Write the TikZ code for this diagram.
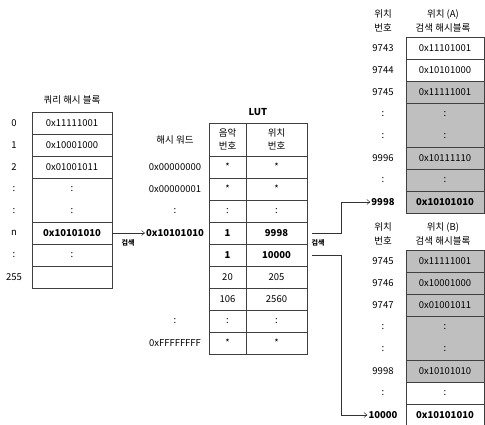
\documentclass[tikz,border=0pt]{standalone}
\usepackage{fontspec}
\setmainfont{Noto Sans CJK KR}
\usetikzlibrary{arrows.meta}

\begin{document}
\begin{tikzpicture}[x=1pt,y=-1pt,
  every node/.style={font=\fontsize{9.5}{13.5}\selectfont,inner sep=1pt},
  cell/.style={draw=black!75,line width=0.5pt,minimum width=80,minimum height=22,inner sep=0pt},
  hcell/.style={cell,minimum width=78},
  shaded/.style={fill=black!25},
  music/.style={cell,minimum width=37},
  place/.style={cell,minimum width=61},
  arr/.style={draw=black!80,line width=0.5pt,-{Straight Barb[length=3pt,width=5pt]}},
  srch/.style={font=\fontsize{7}{8}\selectfont\bfseries}]
  \useasboundingbox (0,0) rectangle (485,424);

  % 쿼리 해시 블록
  \node (qtitle) at (72,100) {쿼리 해시 블록};
  \node[cell] (q0) at (72,123) {0x11111001};
  \node[cell] (q1) at (72,145) {0x10001000};
  \node[cell] (q2) at (72,167) {0x01001011};
  \node[cell,minimum height=44] (qdots) at (72,200) {};
  \node (qd1) at (72,189) {:};
  \node (qd2) at (72,211) {:};
  \node[cell,font=\fontsize{9.5}{13.5}\selectfont\bfseries] (qn) at (72,233) {0x10101010};
  \node[cell] (q9) at (72,255) {:};
  \node[cell] (q255) at (72,277) {};
  \foreach \t/\y [count=\k] in {0/123,1/145,2/167,:/189,:/211,n/233,:/255,255/277}
    \node (qi\k) at (14,\y) {\t};

  % LUT
  \node[font=\fontsize{9.5}{13.5}\selectfont\bfseries] (luttitle) at (258,112) {LUT};
  \node[music,minimum height=33,align=center] (mush) at (227.5,139.5) {음악\\번호};
  \node[place,minimum height=33,align=center] (loch) at (276.5,139.5) {위치\\번호};
  \foreach \a/\b [count=\k] in {*/*,*/*,:/:,\textbf{1}/\textbf{9998},\textbf{1}/\textbf{10000},20/205,106/2560,:/:,*/*}{
    \node[music] (mus\k) at (227.5,145+22*\k) {\a};
    \node[place] (loc\k) at (276.5,145+22*\k) {\b};
  }

  % 해시 워드
  \foreach \t/\y [count=\k] in {해시 워드/140,0x00000000/167,0x00000001/189,:/211,\textbf{0x10101010}/233,:/321,0xFFFFFFFF/343}
    \node (hw\k) at (175,\y) {\t};

  % 위치 (A)
  \node[align=center] (pah) at (383,21) {위치\\번호};
  \node[align=center] (rah) at (443,21) {위치 (A)\\검색 해시블록};
  \node[hcell] (ra1) at (445,48) {0x11101001};
  \node[hcell] (ra2) at (445,70) {0x10101000};
  \node[hcell,shaded] (ra3) at (445,92) {0x11111001};
  \node[hcell,shaded,minimum height=44] (ra4) at (445,125) {};
  \node (rad1) at (445,114) {:};
  \node (rad2) at (445,136) {:};
  \node[hcell,shaded] (ra5) at (445,158) {0x10111110};
  \node[hcell,shaded] (ra6) at (445,180) {:};
  \node[hcell,shaded,font=\fontsize{9.5}{13.5}\selectfont\bfseries] (ra7) at (445,202) {0x10101010};
  \foreach \t/\y [count=\k] in {9743/48,9744/70,9745/92,:/114,:/136,9996/158,:/180,\textbf{9998}/202}
    \node (pa\k) at (383,\y) {\t};

  % 위치 (B)
  \node[align=center] (pbh) at (383,234) {위치\\번호};
  \node[align=center] (rbh) at (443,234) {위치 (B)\\검색 해시블록};
  \node[hcell,shaded] (rb1) at (445,261) {0x11111001};
  \node[hcell,shaded] (rb2) at (445,283) {0x10001000};
  \node[hcell,shaded] (rb3) at (445,305) {0x01001011};
  \node[hcell,shaded,minimum height=44] (rb4) at (445,338) {};
  \node (rbd1) at (445,327) {:};
  \node (rbd2) at (445,349) {:};
  \node[hcell,shaded] (rb5) at (445,371) {0x10101010};
  \node[hcell] (rb6) at (445,393) {:};
  \node[hcell,font=\fontsize{9.5}{13.5}\selectfont\bfseries] (rb7) at (445,415) {0x10101010};
  \foreach \t/\y [count=\k] in {9745/261,9746/283,9747/305,:/327,:/349,9998/371,:/393,\textbf{10000}/415}
    \node (pb\k) at (383,\y) {\t};

  % 검색 화살표
  \draw[arr] (qn.east) -- (hw5.west);
  \node[srch] (srch1) at (128,243) {검색};
  \draw[arr] ([xshift=5]loc4.east) -- ++(29,0) |- (pa8.west);
  \draw[arr] ([xshift=5]loc5.east) -- ++(29,0) |- (pb8.west);
  \node[srch] (srch2) at (318,243) {검색};
\end{tikzpicture}
\end{document}
